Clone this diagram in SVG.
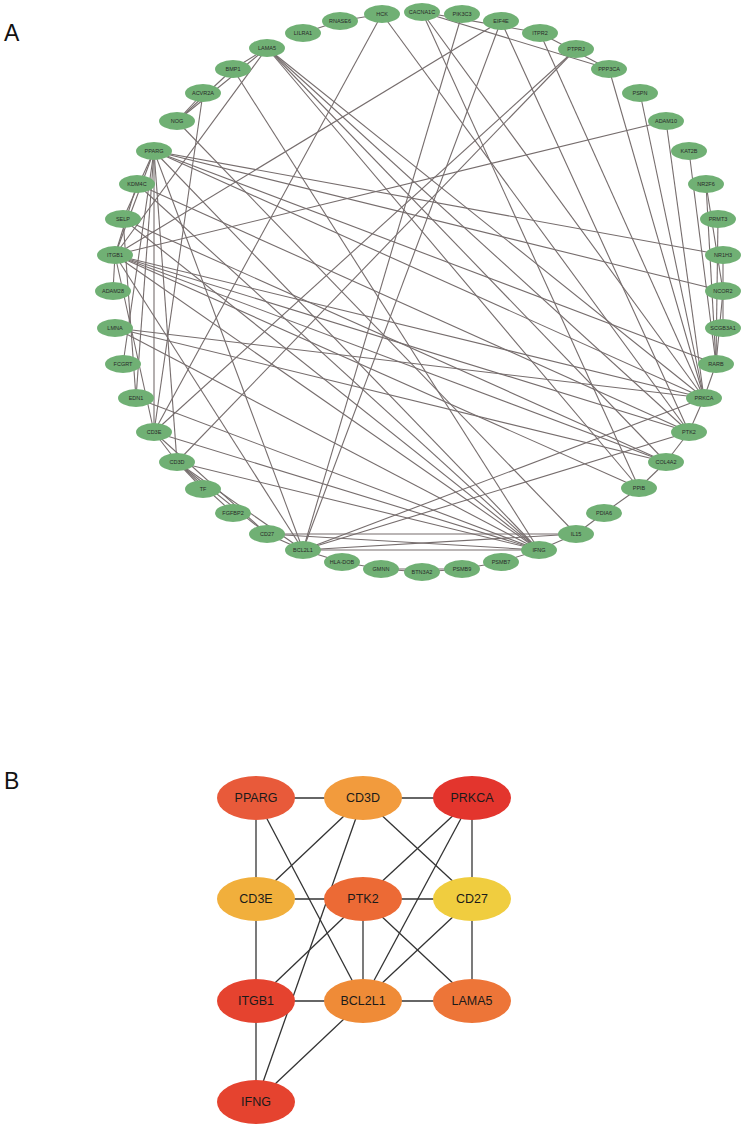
<svg xmlns="http://www.w3.org/2000/svg" width="750" height="1126" viewBox="0 0 750 1126">
<style>
.bg{fill:#ffffff}
.panel{font-family:"Liberation Sans",Arial,sans-serif;font-size:23px;fill:#111}
.ea line{stroke:#766d6d;stroke-width:1.1}
.na ellipse{fill:#70b074}
.na text{font-family:"Liberation Sans",Arial,sans-serif;font-size:5.5px;fill:#2a2a2a;text-anchor:middle;dominant-baseline:central}
.eb line{stroke:#333;stroke-width:1.3}
.nb text{font-family:"Liberation Sans",Arial,sans-serif;font-size:12.5px;fill:#1a1a1a;text-anchor:middle;dominant-baseline:central}
</style>
<rect class="bg" x="0" y="0" width="750" height="1126"/>
<text class="panel" x="4" y="41">A</text>
<text class="panel" x="4" y="789">B</text>

<g id="connectors-A" class="ea">
<line x1="382" y1="14" x2="340" y2="21"/>
<line x1="340" y1="21" x2="303" y2="33"/>
<line x1="382" y1="14" x2="689" y2="432"/>
<line x1="382" y1="14" x2="154" y2="432"/>
<line x1="422" y1="12" x2="540" y2="33"/>
<line x1="422" y1="12" x2="609" y2="69"/>
<line x1="540" y1="33" x2="609" y2="69"/>
<line x1="422" y1="12" x2="704" y2="398"/>
<line x1="422" y1="12" x2="639" y2="488"/>
<line x1="462" y1="14" x2="303" y2="550"/>
<line x1="501" y1="21" x2="303" y2="550"/>
<line x1="501" y1="21" x2="115" y2="255"/>
<line x1="501" y1="21" x2="689" y2="432"/>
<line x1="540" y1="33" x2="704" y2="398"/>
<line x1="576" y1="49" x2="177" y2="462"/>
<line x1="576" y1="49" x2="154" y2="432"/>
<line x1="609" y1="69" x2="704" y2="398"/>
<line x1="640" y1="93" x2="704" y2="398"/>
<line x1="666" y1="121" x2="115" y2="255"/>
<line x1="666" y1="121" x2="704" y2="398"/>
<line x1="689" y1="151" x2="716" y2="364"/>
<line x1="706" y1="184" x2="723" y2="291"/>
<line x1="706" y1="184" x2="716" y2="364"/>
<line x1="718" y1="219" x2="716" y2="364"/>
<line x1="723" y1="255" x2="723" y2="291"/>
<line x1="723" y1="291" x2="716" y2="364"/>
<line x1="723" y1="328" x2="723" y2="291"/>
<line x1="716" y1="364" x2="704" y2="398"/>
<line x1="154" y1="151" x2="723" y2="255"/>
<line x1="154" y1="151" x2="723" y2="291"/>
<line x1="154" y1="151" x2="716" y2="364"/>
<line x1="154" y1="151" x2="704" y2="398"/>
<line x1="704" y1="398" x2="689" y2="432"/>
<line x1="704" y1="398" x2="267" y2="48"/>
<line x1="704" y1="398" x2="115" y2="255"/>
<line x1="704" y1="398" x2="115" y2="328"/>
<line x1="704" y1="398" x2="303" y2="550"/>
<line x1="689" y1="432" x2="303" y2="550"/>
<line x1="267" y1="48" x2="689" y2="432"/>
<line x1="267" y1="48" x2="666" y2="462"/>
<line x1="267" y1="48" x2="639" y2="488"/>
<line x1="267" y1="48" x2="115" y2="255"/>
<line x1="267" y1="48" x2="233" y2="69"/>
<line x1="267" y1="48" x2="177" y2="121"/>
<line x1="233" y1="69" x2="177" y2="121"/>
<line x1="203" y1="93" x2="177" y2="121"/>
<line x1="203" y1="93" x2="154" y2="432"/>
<line x1="177" y1="121" x2="576" y2="534"/>
<line x1="233" y1="69" x2="539" y2="550"/>
<line x1="154" y1="151" x2="115" y2="255"/>
<line x1="154" y1="151" x2="123" y2="219"/>
<line x1="154" y1="151" x2="123" y2="364"/>
<line x1="154" y1="151" x2="136" y2="398"/>
<line x1="154" y1="151" x2="154" y2="432"/>
<line x1="154" y1="151" x2="177" y2="462"/>
<line x1="154" y1="151" x2="303" y2="550"/>
<line x1="154" y1="151" x2="539" y2="550"/>
<line x1="137" y1="184" x2="115" y2="255"/>
<line x1="137" y1="184" x2="539" y2="550"/>
<line x1="137" y1="184" x2="689" y2="432"/>
<line x1="123" y1="219" x2="136" y2="398"/>
<line x1="123" y1="219" x2="539" y2="550"/>
<line x1="123" y1="219" x2="666" y2="462"/>
<line x1="115" y1="255" x2="689" y2="432"/>
<line x1="115" y1="255" x2="666" y2="462"/>
<line x1="115" y1="255" x2="639" y2="488"/>
<line x1="115" y1="255" x2="539" y2="550"/>
<line x1="115" y1="255" x2="303" y2="550"/>
<line x1="115" y1="255" x2="154" y2="432"/>
<line x1="115" y1="255" x2="113" y2="291"/>
<line x1="115" y1="328" x2="666" y2="462"/>
<line x1="115" y1="328" x2="539" y2="550"/>
<line x1="136" y1="398" x2="539" y2="550"/>
<line x1="154" y1="432" x2="177" y2="462"/>
<line x1="154" y1="432" x2="267" y2="534"/>
<line x1="154" y1="432" x2="539" y2="550"/>
<line x1="177" y1="462" x2="267" y2="534"/>
<line x1="177" y1="462" x2="233" y2="513"/>
<line x1="177" y1="462" x2="203" y2="489"/>
<line x1="177" y1="462" x2="303" y2="550"/>
<line x1="177" y1="462" x2="539" y2="550"/>
<line x1="267" y1="534" x2="576" y2="534"/>
<line x1="267" y1="534" x2="539" y2="550"/>
<line x1="267" y1="534" x2="303" y2="550"/>
<line x1="303" y1="550" x2="576" y2="534"/>
<line x1="303" y1="550" x2="539" y2="550"/>
<line x1="303" y1="550" x2="342" y2="562"/>
<line x1="342" y1="562" x2="381" y2="569"/>
<line x1="381" y1="569" x2="422" y2="572"/>
<line x1="381" y1="569" x2="462" y2="569"/>
<line x1="422" y1="572" x2="462" y2="569"/>
<line x1="462" y1="569" x2="501" y2="562"/>
<line x1="501" y1="562" x2="539" y2="550"/>
<line x1="539" y1="550" x2="576" y2="534"/>
<line x1="576" y1="534" x2="604" y2="513"/>
<line x1="604" y1="513" x2="639" y2="488"/>
<line x1="639" y1="488" x2="666" y2="462"/>
<line x1="666" y1="462" x2="689" y2="432"/>
</g>

<g class="na">
<g id="a-HCK"><ellipse cx="382" cy="14" rx="18" ry="9"/><text x="382" y="14">HCK</text></g>
<g id="a-RNASE6"><ellipse cx="340" cy="21" rx="18" ry="9"/><text x="340" y="21">RNASE6</text></g>
<g id="a-LILRA1"><ellipse cx="303" cy="33" rx="18" ry="9"/><text x="303" y="33">LILRA1</text></g>
<g id="a-CACNA1C"><ellipse cx="422" cy="12" rx="18" ry="9"/><text x="422" y="12">CACNA1C</text></g>
<g id="a-PIK3C3"><ellipse cx="462" cy="14" rx="18" ry="9"/><text x="462" y="14">PIK3C3</text></g>
<g id="a-EIF4E"><ellipse cx="501" cy="21" rx="18" ry="9"/><text x="501" y="21">EIF4E</text></g>
<g id="a-ITPR2"><ellipse cx="540" cy="33" rx="18" ry="9"/><text x="540" y="33">ITPR2</text></g>
<g id="a-PTPRJ"><ellipse cx="576" cy="49" rx="18" ry="9"/><text x="576" y="49">PTPRJ</text></g>
<g id="a-PPP3CA"><ellipse cx="609" cy="69" rx="18" ry="9"/><text x="609" y="69">PPP3CA</text></g>
<g id="a-PSPN"><ellipse cx="640" cy="93" rx="18" ry="9"/><text x="640" y="93">PSPN</text></g>
<g id="a-ADAM10"><ellipse cx="666" cy="121" rx="18" ry="9"/><text x="666" y="121">ADAM10</text></g>
<g id="a-KAT2B"><ellipse cx="689" cy="151" rx="18" ry="9"/><text x="689" y="151">KAT2B</text></g>
<g id="a-NR2F6"><ellipse cx="706" cy="184" rx="18" ry="9"/><text x="706" y="184">NR2F6</text></g>
<g id="a-PRMT3"><ellipse cx="718" cy="219" rx="18" ry="9"/><text x="718" y="219">PRMT3</text></g>
<g id="a-NR1H3"><ellipse cx="723" cy="255" rx="18" ry="9"/><text x="723" y="255">NR1H3</text></g>
<g id="a-NCOR2"><ellipse cx="723" cy="291" rx="18" ry="9"/><text x="723" y="291">NCOR2</text></g>
<g id="a-SCGB3A1"><ellipse cx="723" cy="328" rx="18" ry="9"/><text x="723" y="328">SCGB3A1</text></g>
<g id="a-RARB"><ellipse cx="716" cy="364" rx="18" ry="9"/><text x="716" y="364">RARB</text></g>
<g id="a-PRKCA"><ellipse cx="704" cy="398" rx="18" ry="9"/><text x="704" y="398">PRKCA</text></g>
<g id="a-PTK2"><ellipse cx="689" cy="432" rx="18" ry="9"/><text x="689" y="432">PTK2</text></g>
<g id="a-COL4A2"><ellipse cx="666" cy="462" rx="18" ry="9"/><text x="666" y="462">COL4A2</text></g>
<g id="a-PPIB"><ellipse cx="639" cy="488" rx="18" ry="9"/><text x="639" y="488">PPIB</text></g>
<g id="a-PDIA6"><ellipse cx="604" cy="513" rx="18" ry="9"/><text x="604" y="513">PDIA6</text></g>
<g id="a-IL15"><ellipse cx="576" cy="534" rx="18" ry="9"/><text x="576" y="534">IL15</text></g>
<g id="a-IFNG"><ellipse cx="539" cy="550" rx="18" ry="9"/><text x="539" y="550">IFNG</text></g>
<g id="a-PSMB7"><ellipse cx="501" cy="562" rx="18" ry="9"/><text x="501" y="562">PSMB7</text></g>
<g id="a-PSMB9"><ellipse cx="462" cy="569" rx="18" ry="9"/><text x="462" y="569">PSMB9</text></g>
<g id="a-BTN3A2"><ellipse cx="422" cy="572" rx="18" ry="9"/><text x="422" y="572">BTN3A2</text></g>
<g id="a-GMNN"><ellipse cx="381" cy="569" rx="18" ry="9"/><text x="381" y="569">GMNN</text></g>
<g id="a-HLA-DOB"><ellipse cx="342" cy="562" rx="18" ry="9"/><text x="342" y="562">HLA-DOB</text></g>
<g id="a-BCL2L1"><ellipse cx="303" cy="550" rx="18" ry="9"/><text x="303" y="550">BCL2L1</text></g>
<g id="a-CD27"><ellipse cx="267" cy="534" rx="18" ry="9"/><text x="267" y="534">CD27</text></g>
<g id="a-FGFBP2"><ellipse cx="233" cy="513" rx="18" ry="9"/><text x="233" y="513">FGFBP2</text></g>
<g id="a-TF"><ellipse cx="203" cy="489" rx="18" ry="9"/><text x="203" y="489">TF</text></g>
<g id="a-CD3D"><ellipse cx="177" cy="462" rx="18" ry="9"/><text x="177" y="462">CD3D</text></g>
<g id="a-CD3E"><ellipse cx="154" cy="432" rx="18" ry="9"/><text x="154" y="432">CD3E</text></g>
<g id="a-EDN1"><ellipse cx="136" cy="398" rx="18" ry="9"/><text x="136" y="398">EDN1</text></g>
<g id="a-FCGRT"><ellipse cx="123" cy="364" rx="18" ry="9"/><text x="123" y="364">FCGRT</text></g>
<g id="a-LMNA"><ellipse cx="115" cy="328" rx="18" ry="9"/><text x="115" y="328">LMNA</text></g>
<g id="a-ADAM28"><ellipse cx="113" cy="291" rx="18" ry="9"/><text x="113" y="291">ADAM28</text></g>
<g id="a-ITGB1"><ellipse cx="115" cy="255" rx="18" ry="9"/><text x="115" y="255">ITGB1</text></g>
<g id="a-SELP"><ellipse cx="123" cy="219" rx="18" ry="9"/><text x="123" y="219">SELP</text></g>
<g id="a-KDM4C"><ellipse cx="137" cy="184" rx="18" ry="9"/><text x="137" y="184">KDM4C</text></g>
<g id="a-PPARG"><ellipse cx="154" cy="151" rx="18" ry="9"/><text x="154" y="151">PPARG</text></g>
<g id="a-NOG"><ellipse cx="177" cy="121" rx="18" ry="9"/><text x="177" y="121">NOG</text></g>
<g id="a-ACVR2A"><ellipse cx="203" cy="93" rx="18" ry="9"/><text x="203" y="93">ACVR2A</text></g>
<g id="a-BMP1"><ellipse cx="233" cy="69" rx="18" ry="9"/><text x="233" y="69">BMP1</text></g>
<g id="a-LAMA5"><ellipse cx="267" cy="48" rx="18" ry="9"/><text x="267" y="48">LAMA5</text></g>
</g>

<g id="connectors-B" class="eb">
<line x1="256" y1="798" x2="363" y2="798"/>
<line x1="363" y1="798" x2="472" y2="798"/>
<line x1="256" y1="798" x2="256" y2="899"/>
<line x1="256" y1="798" x2="363" y2="1001"/>
<line x1="363" y1="798" x2="256" y2="899"/>
<line x1="363" y1="798" x2="256" y2="1102"/>
<line x1="363" y1="798" x2="472" y2="899"/>
<line x1="472" y1="798" x2="363" y2="899"/>
<line x1="472" y1="798" x2="363" y2="1001"/>
<line x1="472" y1="798" x2="472" y2="899"/>
<line x1="256" y1="899" x2="363" y2="899"/>
<line x1="256" y1="899" x2="256" y2="1001"/>
<line x1="363" y1="899" x2="472" y2="899"/>
<line x1="363" y1="899" x2="256" y2="1001"/>
<line x1="363" y1="899" x2="363" y2="1001"/>
<line x1="363" y1="899" x2="472" y2="1001"/>
<line x1="472" y1="899" x2="363" y2="1001"/>
<line x1="472" y1="899" x2="472" y2="1001"/>
<line x1="256" y1="1001" x2="363" y2="1001"/>
<line x1="363" y1="1001" x2="472" y2="1001"/>
<line x1="256" y1="1001" x2="256" y2="1102"/>
<line x1="363" y1="1001" x2="256" y2="1102"/>
</g>

<g class="nb">
<g id="b-PPARG"><ellipse cx="256" cy="798" rx="39" ry="22" fill="#e85a3a"/><text x="256" y="798">PPARG</text></g>
<g id="b-CD3D"><ellipse cx="363" cy="798" rx="39" ry="22" fill="#f29b3d"/><text x="363" y="798">CD3D</text></g>
<g id="b-PRKCA"><ellipse cx="472" cy="798" rx="39" ry="22" fill="#e3352d"/><text x="472" y="798">PRKCA</text></g>
<g id="b-CD3E"><ellipse cx="256" cy="899" rx="39" ry="22" fill="#f1af3c"/><text x="256" y="899">CD3E</text></g>
<g id="b-PTK2"><ellipse cx="363" cy="899" rx="39" ry="22" fill="#ec6a35"/><text x="363" y="899">PTK2</text></g>
<g id="b-CD27"><ellipse cx="472" cy="899" rx="39" ry="22" fill="#f0cd3f"/><text x="472" y="899">CD27</text></g>
<g id="b-ITGB1"><ellipse cx="256" cy="1001" rx="39" ry="22" fill="#e5432f"/><text x="256" y="1001">ITGB1</text></g>
<g id="b-BCL2L1"><ellipse cx="363" cy="1001" rx="39" ry="22" fill="#ef8b37"/><text x="363" y="1001">BCL2L1</text></g>
<g id="b-LAMA5"><ellipse cx="472" cy="1001" rx="39" ry="22" fill="#ed7538"/><text x="472" y="1001">LAMA5</text></g>
<g id="b-IFNG"><ellipse cx="256" cy="1102" rx="39" ry="22" fill="#e5432f"/><text x="256" y="1102">IFNG</text></g>
</g>
</svg>
